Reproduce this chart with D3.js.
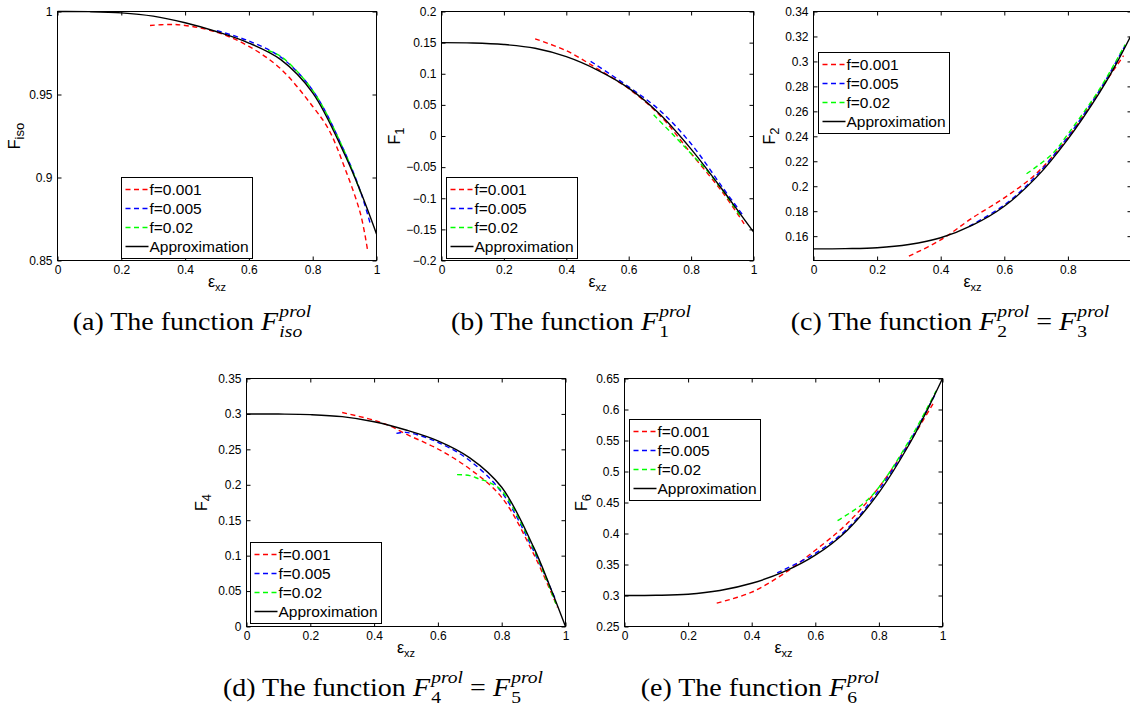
<!DOCTYPE html>
<html lang="en">
<head>
<meta charset="UTF-8">
<title>Prolate functions F</title>
<script src="https://d3js.org/d3.v7.min.js"></script>
<style>
  body { margin: 0; background: #fff; }
</style>
</head>
<body>
<svg id="fig" width="1130" height="709"></svg>
<script>
// ---- values ----
var approxX = [0, 0.1, 0.2, 0.3, 0.4, 0.5, 0.6, 0.7, 0.8, 0.9, 0.95, 1];
var xTicks = [0, 0.2, 0.4, 0.6, 0.8, 1];
var xTicksCut = [0, 0.2, 0.4, 0.6, 0.8];   // panel (c): the "1" falls off the page
var seriesNames = ["f=0.001", "f=0.005", "f=0.02", "Approximation"];
var seriesColors = ["#ff0000", "#0000ff", "#00ff00", "#000000"];

// (a) F_iso
var isoTicks = [0.85, 0.9, 0.95, 1];
var isoApprox = [1, 0.9999, 0.9992, 0.9972, 0.9932, 0.9878, 0.981, 0.971, 0.951, 0.914, 0.8915, 0.866];
var isoX001 = [0.29, 0.35, 0.4, 0.5, 0.6, 0.7, 0.8, 0.85, 0.9, 0.95, 0.973];
var isoY001 = [0.9916, 0.9922, 0.9916, 0.9875, 0.979, 0.9654, 0.9428, 0.929, 0.906, 0.878, 0.855];
var isoX005 = [0.5, 0.6, 0.7, 0.8, 0.9, 0.95, 0.98];
var isoY005 = [0.9885, 0.9822, 0.9725, 0.9525, 0.9155, 0.8915, 0.8725];
var isoX02 = [0.66, 0.7, 0.8, 0.9, 0.95];
var isoY02 = [0.9765, 0.973, 0.9525, 0.9155, 0.891];

// (b) F_1
var f1Ticks = [-0.2, -0.15, -0.1, -0.05, 0, 0.05, 0.1, 0.15, 0.2];
var f1Approx = [0.15, 0.1495, 0.147, 0.141, 0.1275, 0.106, 0.077, 0.035, -0.021, -0.086, -0.12, -0.154];
var f1X001 = [0.3, 0.4, 0.5, 0.6, 0.7, 0.8, 0.9, 0.97];
var f1Y001 = [0.156, 0.137, 0.108, 0.076, 0.033, -0.028, -0.09, -0.141];
var f1X005 = [0.478, 0.6, 0.7, 0.8, 0.9, 0.97];
var f1Y005 = [0.12, 0.079, 0.041, -0.0125, -0.082, -0.130];
var f1X02 = [0.68, 0.75, 0.8, 0.85, 0.9, 0.96];
var f1Y02 = [0.034, -0.002, -0.0285, -0.055, -0.087, -0.13];

// (c) F_2 = F_3
var f2Ticks = [0.16, 0.18, 0.2, 0.22, 0.24, 0.26, 0.28, 0.3, 0.32, 0.34];
var f2Approx = [0.1498, 0.15, 0.1507, 0.1533, 0.1587, 0.1688, 0.184, 0.2069, 0.2378, 0.2753, 0.297, 0.3215];
var f2X001 = [0.3, 0.4, 0.5, 0.6, 0.7, 0.8, 0.9, 0.975];
var f2Y001 = [0.144, 0.157, 0.1747, 0.1907, 0.210, 0.239, 0.2767, 0.3046];
var f2X005 = [0.49, 0.6, 0.7, 0.8, 0.9, 0.98];
var f2Y005 = [0.168, 0.185, 0.2083, 0.2397, 0.277, 0.3127];
var f2X02 = [0.67, 0.75, 0.8, 0.9, 0.98];
var f2Y02 = [0.210, 0.2257, 0.2418, 0.278, 0.3135];

// (d) F_4 = F_5
var f4Ticks = [0, 0.05, 0.1, 0.15, 0.2, 0.25, 0.3, 0.35];
var f4Approx = [0.3, 0.2998, 0.299, 0.2962, 0.289, 0.2773, 0.262, 0.238, 0.1965, 0.112, 0.058, 0];
var f4X001 = [0.3, 0.4, 0.45, 0.5, 0.6, 0.7, 0.8, 0.9, 0.975];
var f4Y001 = [0.302, 0.291, 0.283, 0.2716, 0.2505, 0.2223, 0.1823, 0.1025, 0.027];
var f4X005 = [0.47, 0.5, 0.6, 0.7, 0.8, 0.9, 0.97];
var f4Y005 = [0.2725, 0.274, 0.26, 0.234, 0.1893, 0.107, 0.0367];
var f4X02 = [0.66, 0.7, 0.73, 0.76, 0.8, 0.9, 0.97];
var f4Y02 = [0.2143, 0.213, 0.208, 0.2035, 0.1917, 0.1095, 0.032];

// (e) F_6
var f6Ticks = [0.25, 0.3, 0.35, 0.4, 0.45, 0.5, 0.55, 0.6, 0.65];
var f6Approx = [0.3, 0.3003, 0.302, 0.308, 0.3197, 0.338, 0.365, 0.405, 0.466, 0.548, 0.597, 0.65];
var f6X001 = [0.29, 0.4, 0.5, 0.6, 0.7, 0.8, 0.9, 0.97];
var f6Y001 = [0.2877, 0.3053, 0.335, 0.373, 0.416, 0.4745, 0.55, 0.609];
var f6X005 = [0.48, 0.6, 0.7, 0.8, 0.9, 0.98];
var f6Y005 = [0.3365, 0.368, 0.4074, 0.47, 0.5515, 0.6275];
var f6X02 = [0.67, 0.75, 0.8, 0.9, 0.98];
var f6Y02 = [0.4208, 0.448, 0.4745, 0.554, 0.630];

// ---- layout of the five subfigures ----
var panels = [
  { box: [57, 11, 376, 260], yDomain: [0.85, 1], yTicks: isoTicks, xLabels: xTicks, ySub: "iso", yLabX: 20,
    legend: [121, 177], approx: isoApprox,
    dashed: [[isoX001, isoY001], [isoX005, isoY005], [isoX02, isoY02]],
    capX: 192, capY: 330,
    caption: [{ rm: "(a) The function " }, { it: "F" }, { sup: "prol", sub: "iso", subIt: true }] },
  { box: [441, 11, 753, 260], yDomain: [-0.2, 0.2], yTicks: f1Ticks, xLabels: xTicks, ySub: "1", yLabX: 400,
    legend: [446, 177], approx: f1Approx,
    dashed: [[f1X001, f1Y001], [f1X005, f1Y005], [f1X02, f1Y02]],
    capX: 571, capY: 330,
    caption: [{ rm: "(b) The function " }, { it: "F" }, { sup: "prol", sub: "1" }] },
  { box: [813, 11, 1131, 260], yDomain: [0.1405, 0.34], yTicks: f2Ticks, xLabels: xTicksCut, ySub: "2", yLabX: 775,
    legend: [818, 52], approx: f2Approx,
    dashed: [[f2X001, f2Y001], [f2X005, f2Y005], [f2X02, f2Y02]],
    capX: 950, capY: 330,
    caption: [{ rm: "(c) The function " }, { it: "F" }, { sup: "prol", sub: "2" }, { rm: " = " }, { it: "F" }, { sup: "prol", sub: "3" }] },
  { box: [246, 378, 565, 626], yDomain: [0, 0.35], yTicks: f4Ticks, xLabels: xTicks, ySub: "4", yLabX: 207,
    legend: [250, 542], approx: f4Approx,
    dashed: [[f4X001, f4Y001], [f4X005, f4Y005], [f4X02, f4Y02]],
    capX: 383, capY: 696,
    caption: [{ rm: "(d) The function " }, { it: "F" }, { sup: "prol", sub: "4" }, { rm: " = " }, { it: "F" }, { sup: "prol", sub: "5" }] },
  { box: [624, 378, 942, 626], yDomain: [0.25, 0.65], yTicks: f6Ticks, xLabels: xTicks, ySub: "6", yLabX: 587,
    legend: [629, 419], approx: f6Approx,
    dashed: [[f6X001, f6Y001], [f6X005, f6Y005], [f6X02, f6Y02]],
    capX: 760, capY: 696,
    caption: [{ rm: "(e) The function " }, { it: "F" }, { sup: "prol", sub: "6" }] }
];

var svg = d3.select("#fig");
var sans = "'Liberation Sans', Arial, Helvetica, sans-serif";
var serif = "'Liberation Serif', 'Times New Roman', serif";

var fmt = function(d) {
  return String(Math.round(d * 1000) / 1000).replace("-", "\u2212");
};

function noDomain(g) { g.select(".domain").remove(); }

panels.forEach(function(p) {
  var L = p.box[0] + 0.5, T = p.box[1] + 0.5, R = p.box[2] + 0.5, B = p.box[3] + 0.5;
  var x = d3.scaleLinear().domain([0, 1]).range([L, R]);
  var y = d3.scaleLinear().domain(p.yDomain).range([B, T]);
  var g = svg.append("g");

  // curves: dashed simulations first, approximation on top
  var line = d3.line()
    .x(function(d) { return x(d[0]); })
    .y(function(d) { return y(d[1]); })
    .curve(d3.curveCatmullRom.alpha(0.5));

  p.dashed.forEach(function(s, i) {
    g.append("path")
      .attr("d", line(d3.zip(s[0], s[1])))
      .attr("fill", "none")
      .attr("stroke", seriesColors[i])
      .attr("stroke-width", 1.4)
      .attr("stroke-dasharray", "5,3.5");
  });
  g.append("path")
    .attr("d", line(d3.zip(approxX, p.approx)))
    .attr("fill", "none")
    .attr("stroke", "#000")
    .attr("stroke-width", 1.4);

  // axes, ticks pointing inward on all four sides
  var axB = g.append("g").attr("transform", "translate(0," + B + ")")
    .call(d3.axisBottom(x).tickValues(p.xLabels).tickSize(-4).tickPadding(4.5).tickFormat(fmt))
    .call(noDomain);
  g.append("g").attr("transform", "translate(0," + T + ")")
    .call(d3.axisTop(x).tickValues(xTicks).tickSize(-4).tickFormat(""))
    .call(noDomain);
  var axL = g.append("g").attr("transform", "translate(" + L + ",0)")
    .call(d3.axisLeft(y).tickValues(p.yTicks).tickSize(-4).tickPadding(5).tickFormat(fmt))
    .call(noDomain);
  g.append("g").attr("transform", "translate(" + R + ",0)")
    .call(d3.axisRight(y).tickValues(p.yTicks).tickSize(-4).tickFormat(""))
    .call(noDomain);
  [axB, axL].forEach(function(a) {
    a.attr("font-family", sans).attr("font-size", 12);
  });

  g.append("rect")
    .attr("x", L).attr("y", T)
    .attr("width", R - L).attr("height", B - T)
    .attr("fill", "none").attr("stroke", "#000").attr("stroke-width", 1);

  // axis labels
  var xl = g.append("text")
    .attr("x", (L + R) / 2).attr("y", B + 26)
    .attr("text-anchor", "middle")
    .attr("font-family", sans).attr("font-size", 16);
  xl.append("tspan").text("\u03b5");
  xl.append("tspan").attr("font-size", 11).attr("dy", 4).text("xz");

  var yl = g.append("text")
    .attr("transform", "translate(" + p.yLabX + "," + (T + B) / 2 + ") rotate(-90)")
    .attr("text-anchor", "middle")
    .attr("font-family", sans).attr("font-size", 16);
  yl.append("tspan").text("F");
  yl.append("tspan").attr("font-size", 13).attr("dy", 4).text(p.ySub);

  // legend
  var lx = p.legend[0] + 0.5, ly = p.legend[1] + 0.5;
  var lg = g.append("g");
  lg.append("rect")
    .attr("x", lx).attr("y", ly).attr("width", 131).attr("height", 81)
    .attr("fill", "#fff").attr("stroke", "#000").attr("stroke-width", 1);
  seriesNames.forEach(function(name, i) {
    var ry = ly + 12 + i * 19;
    lg.append("line")
      .attr("x1", lx + 4).attr("x2", lx + 27)
      .attr("y1", ry).attr("y2", ry)
      .attr("stroke", seriesColors[i])
      .attr("stroke-width", 1.5)
      .attr("stroke-dasharray", i === 3 ? null : "5,3.5");
    lg.append("text")
      .attr("x", lx + 28).attr("y", ry + 5.5)
      .attr("font-family", sans).attr("font-size", 15.5)
      .text(name);
  });

  // caption, laid out piece by piece so scripts can stack
  var cg = svg.append("g");
  var cursor = 0;
  p.caption.forEach(function(part) {
    if (part.rm !== undefined || part.it !== undefined) {
      var t = cg.append("text")
        .attr("x", cursor).attr("y", 0)
        .attr("font-family", serif).attr("font-size", 25)
        .attr("font-style", part.it ? "italic" : "normal")
        .style("white-space", "pre")
        .text(part.rm !== undefined ? part.rm : part.it);
      cursor += t.node().getComputedTextLength() + (part.it ? 1 : 0);
    } else {
      var sp = cg.append("text")
        .attr("x", cursor).attr("y", -13)
        .attr("font-family", serif).attr("font-size", 17.5)
        .attr("font-style", "italic")
        .text(part.sup);
      var sb = cg.append("text")
        .attr("x", cursor).attr("y", 7)
        .attr("font-family", serif).attr("font-size", 17.5)
        .attr("font-style", part.subIt ? "italic" : "normal")
        .text(part.sub);
      cursor += Math.max(sp.node().getComputedTextLength(), sb.node().getComputedTextLength());
    }
  });
  var sx = 1.12;
  cg.attr("transform", "translate(" + (p.capX - sx * cursor / 2) + "," + p.capY + ") scale(" + sx + ",1)");
});
</script>
</body>
</html>
